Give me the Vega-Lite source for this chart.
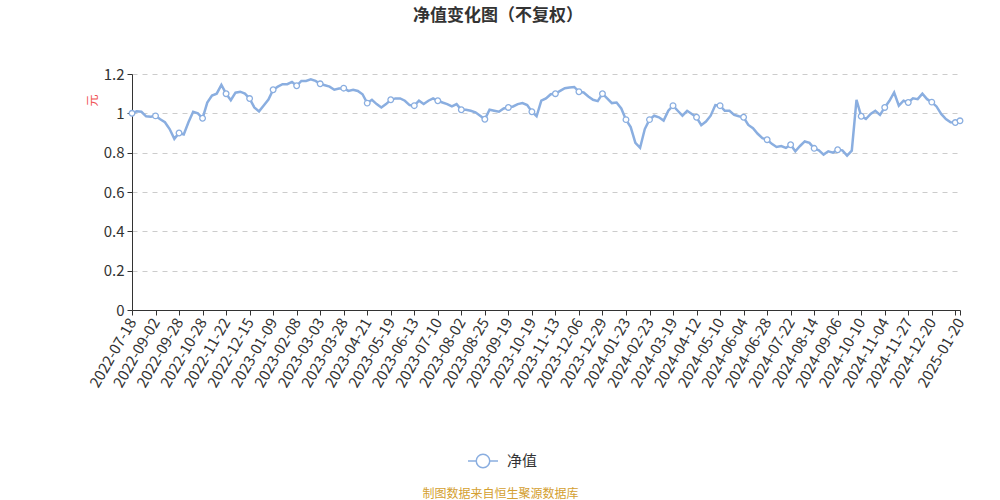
{
  "$schema": "https://vega.github.io/schema/vega-lite/v6.json",
  "width": 828,
  "height": 236,
  "autosize": "none",
  "padding": {"left": 132, "top": 74, "right": 40, "bottom": 190},
  "background": "white",
  "title": {"text": "净值变化图（不复权）", "anchor": "middle", "frame": "group", "dx": -48, "offset": 42, "fontSize": 17, "fontWeight": "bold", "color": "#333333", "font": "Noto Sans CJK SC"},
  "data": {"values": [
    {"date": "2022-07-18", "nav": 1.000}, {"date": "2022-07-27", "nav": 1.010}, {"date": "2022-08-05", "nav": 1.008}, {"date": "2022-08-16", "nav": 0.985}, {"date": "2022-08-25", "nav": 0.983},
    {"date": "2022-09-02", "nav": 0.987}, {"date": "2022-09-07", "nav": 0.970}, {"date": "2022-09-13", "nav": 0.955}, {"date": "2022-09-16", "nav": 0.920}, {"date": "2022-09-22", "nav": 0.870},
    {"date": "2022-09-28", "nav": 0.900}, {"date": "2022-10-11", "nav": 0.893}, {"date": "2022-10-14", "nav": 0.955}, {"date": "2022-10-19", "nav": 1.008}, {"date": "2022-10-24", "nav": 1.000},
    {"date": "2022-10-28", "nav": 0.975}, {"date": "2022-11-02", "nav": 1.055}, {"date": "2022-11-07", "nav": 1.090}, {"date": "2022-11-10", "nav": 1.100}, {"date": "2022-11-16", "nav": 1.145},
    {"date": "2022-11-22", "nav": 1.100}, {"date": "2022-11-25", "nav": 1.067}, {"date": "2022-11-30", "nav": 1.105}, {"date": "2022-12-05", "nav": 1.110}, {"date": "2022-12-09", "nav": 1.100},
    {"date": "2022-12-15", "nav": 1.075}, {"date": "2022-12-20", "nav": 1.030}, {"date": "2022-12-23", "nav": 1.010}, {"date": "2022-12-28", "nav": 1.040}, {"date": "2023-01-03", "nav": 1.070},
    {"date": "2023-01-09", "nav": 1.120}, {"date": "2023-01-12", "nav": 1.136}, {"date": "2023-01-17", "nav": 1.148}, {"date": "2023-01-30", "nav": 1.148}, {"date": "2023-02-02", "nav": 1.160},
    {"date": "2023-02-08", "nav": 1.140}, {"date": "2023-02-13", "nav": 1.165}, {"date": "2023-02-16", "nav": 1.165}, {"date": "2023-02-22", "nav": 1.173}, {"date": "2023-02-27", "nav": 1.165},
    {"date": "2023-03-03", "nav": 1.150}, {"date": "2023-03-08", "nav": 1.143}, {"date": "2023-03-13", "nav": 1.136}, {"date": "2023-03-17", "nav": 1.120}, {"date": "2023-03-22", "nav": 1.126},
    {"date": "2023-03-28", "nav": 1.128}, {"date": "2023-03-31", "nav": 1.114}, {"date": "2023-04-06", "nav": 1.120}, {"date": "2023-04-11", "nav": 1.114}, {"date": "2023-04-17", "nav": 1.097},
    {"date": "2023-04-21", "nav": 1.052}, {"date": "2023-04-26", "nav": 1.069}, {"date": "2023-05-04", "nav": 1.047}, {"date": "2023-05-09", "nav": 1.030}, {"date": "2023-05-15", "nav": 1.047},
    {"date": "2023-05-19", "nav": 1.069}, {"date": "2023-05-24", "nav": 1.076}, {"date": "2023-05-29", "nav": 1.076}, {"date": "2023-06-01", "nav": 1.064}, {"date": "2023-06-07", "nav": 1.042},
    {"date": "2023-06-13", "nav": 1.039}, {"date": "2023-06-16", "nav": 1.064}, {"date": "2023-06-21", "nav": 1.047}, {"date": "2023-06-29", "nav": 1.064}, {"date": "2023-07-04", "nav": 1.076},
    {"date": "2023-07-10", "nav": 1.064}, {"date": "2023-07-13", "nav": 1.055}, {"date": "2023-07-18", "nav": 1.047}, {"date": "2023-07-21", "nav": 1.035}, {"date": "2023-07-27", "nav": 1.047},
    {"date": "2023-08-02", "nav": 1.018}, {"date": "2023-08-07", "nav": 1.018}, {"date": "2023-08-10", "nav": 1.013}, {"date": "2023-08-15", "nav": 1.005}, {"date": "2023-08-21", "nav": 0.988},
    {"date": "2023-08-25", "nav": 0.970}, {"date": "2023-08-30", "nav": 1.018}, {"date": "2023-09-04", "nav": 1.013}, {"date": "2023-09-07", "nav": 1.008}, {"date": "2023-09-13", "nav": 1.025},
    {"date": "2023-09-19", "nav": 1.030}, {"date": "2023-09-22", "nav": 1.035}, {"date": "2023-09-27", "nav": 1.047}, {"date": "2023-10-11", "nav": 1.052}, {"date": "2023-10-16", "nav": 1.042},
    {"date": "2023-10-19", "nav": 1.008}, {"date": "2023-10-24", "nav": 0.985}, {"date": "2023-10-27", "nav": 1.064}, {"date": "2023-11-01", "nav": 1.076}, {"date": "2023-11-07", "nav": 1.097},
    {"date": "2023-11-13", "nav": 1.100}, {"date": "2023-11-16", "nav": 1.114}, {"date": "2023-11-21", "nav": 1.128}, {"date": "2023-11-24", "nav": 1.131}, {"date": "2023-11-30", "nav": 1.134},
    {"date": "2023-12-06", "nav": 1.110}, {"date": "2023-12-11", "nav": 1.106}, {"date": "2023-12-14", "nav": 1.086}, {"date": "2023-12-19", "nav": 1.069}, {"date": "2023-12-22", "nav": 1.062},
    {"date": "2023-12-29", "nav": 1.100}, {"date": "2024-01-04", "nav": 1.076}, {"date": "2024-01-09", "nav": 1.052}, {"date": "2024-01-12", "nav": 1.055}, {"date": "2024-01-17", "nav": 1.025},
    {"date": "2024-01-23", "nav": 0.968}, {"date": "2024-01-26", "nav": 0.930}, {"date": "2024-01-31", "nav": 0.850}, {"date": "2024-02-05", "nav": 0.825}, {"date": "2024-02-19", "nav": 0.920},
    {"date": "2024-02-23", "nav": 0.968}, {"date": "2024-02-28", "nav": 0.988}, {"date": "2024-03-04", "nav": 0.980}, {"date": "2024-03-07", "nav": 0.963}, {"date": "2024-03-13", "nav": 1.013},
    {"date": "2024-03-19", "nav": 1.039}, {"date": "2024-03-22", "nav": 1.013}, {"date": "2024-03-27", "nav": 0.988}, {"date": "2024-04-01", "nav": 1.013}, {"date": "2024-04-08", "nav": 0.997},
    {"date": "2024-04-12", "nav": 0.980}, {"date": "2024-04-17", "nav": 0.940}, {"date": "2024-04-22", "nav": 0.958}, {"date": "2024-04-25", "nav": 0.988}, {"date": "2024-05-06", "nav": 1.042},
    {"date": "2024-05-10", "nav": 1.039}, {"date": "2024-05-15", "nav": 1.013}, {"date": "2024-05-20", "nav": 1.013}, {"date": "2024-05-23", "nav": 0.992}, {"date": "2024-05-29", "nav": 0.985},
    {"date": "2024-06-04", "nav": 0.980}, {"date": "2024-06-07", "nav": 0.941}, {"date": "2024-06-13", "nav": 0.924}, {"date": "2024-06-18", "nav": 0.896}, {"date": "2024-06-24", "nav": 0.874},
    {"date": "2024-06-28", "nav": 0.866}, {"date": "2024-07-03", "nav": 0.845}, {"date": "2024-07-08", "nav": 0.829}, {"date": "2024-07-11", "nav": 0.834}, {"date": "2024-07-16", "nav": 0.824},
    {"date": "2024-07-22", "nav": 0.840}, {"date": "2024-07-25", "nav": 0.807}, {"date": "2024-07-30", "nav": 0.834}, {"date": "2024-08-02", "nav": 0.857}, {"date": "2024-08-08", "nav": 0.850},
    {"date": "2024-08-14", "nav": 0.822}, {"date": "2024-08-19", "nav": 0.812}, {"date": "2024-08-22", "nav": 0.790}, {"date": "2024-08-27", "nav": 0.807}, {"date": "2024-09-02", "nav": 0.800},
    {"date": "2024-09-06", "nav": 0.815}, {"date": "2024-09-11", "nav": 0.812}, {"date": "2024-09-19", "nav": 0.785}, {"date": "2024-09-25", "nav": 0.810}, {"date": "2024-09-30", "nav": 1.068},
    {"date": "2024-10-10", "nav": 0.985}, {"date": "2024-10-15", "nav": 0.971}, {"date": "2024-10-18", "nav": 0.997}, {"date": "2024-10-23", "nav": 1.013}, {"date": "2024-10-29", "nav": 0.992},
    {"date": "2024-11-04", "nav": 1.030}, {"date": "2024-11-07", "nav": 1.064}, {"date": "2024-11-12", "nav": 1.106}, {"date": "2024-11-15", "nav": 1.039}, {"date": "2024-11-21", "nav": 1.064},
    {"date": "2024-11-27", "nav": 1.055}, {"date": "2024-12-02", "nav": 1.076}, {"date": "2024-12-05", "nav": 1.072}, {"date": "2024-12-10", "nav": 1.100}, {"date": "2024-12-16", "nav": 1.072},
    {"date": "2024-12-20", "nav": 1.057}, {"date": "2024-12-25", "nav": 1.035}, {"date": "2024-12-30", "nav": 0.997}, {"date": "2025-01-03", "nav": 0.971}, {"date": "2025-01-09", "nav": 0.955},
    {"date": "2025-01-15", "nav": 0.953}, {"date": "2025-01-20", "nav": 0.962}
  ]},
  "encoding": {
    "x": {
      "field": "date", "type": "ordinal",
      "scale": {"type": "point", "padding": 0},
      "axis": {
        "values": ["2022-07-18", "2022-09-02", "2022-09-28", "2022-10-28", "2022-11-22", "2022-12-15", "2023-01-09", "2023-02-08", "2023-03-03", "2023-03-28", "2023-04-21", "2023-05-19", "2023-06-13", "2023-07-10", "2023-08-02", "2023-08-25", "2023-09-19", "2023-10-19", "2023-11-13", "2023-12-06", "2023-12-29", "2024-01-23", "2024-02-23", "2024-03-19", "2024-04-12", "2024-05-10", "2024-06-04", "2024-06-28", "2024-07-22", "2024-08-14", "2024-09-06", "2024-10-10", "2024-11-04", "2024-11-27", "2024-12-20", "2025-01-15", "2025-01-20"],
        "labelExpr": "datum.value == '2025-01-15' ? '' : datum.value",
        "labelAngle": -60, "labelAlign": "right", "labelBaseline": "middle",
        "labelFontSize": 15, "labelColor": "#333333", "labelPadding": 4,
        "labelOverlap": false, "labelFlush": false, "labelBound": false,
        "tickSize": 5, "tickColor": "#333333", "domainColor": "#333333", "grid": false,
        "title": "制图数据来自恒生聚源数据库", "titleColor": "#d4a030", "titleFontSize": 12, "titleFontWeight": "normal",
        "titleX": 368, "titleY": 183, "titleAlign": "center", "titleBaseline": "middle"
      }
    },
    "y": {
      "field": "nav", "type": "quantitative",
      "scale": {"domain": [0, 1.2], "nice": false, "zero": true},
      "axis": {
        "values": [0, 0.2, 0.4, 0.6, 0.8, 1, 1.2], "format": "~g",
        "labelOverlap": false,
        "labelFontSize": 15, "labelColor": "#333333", "labelPadding": 3,
        "tickSize": 5, "tickColor": "#333333", "domainColor": "#333333",
        "grid": true, "gridDash": [5, 5], "gridColor": "#cccccc",
        "title": "元", "titleColor": "#f05050", "titleFontSize": 12, "titleFontWeight": "normal",
        "titleX": -40, "titleY": 26, "titleAlign": "center", "titleBaseline": "middle"
      }
    }
  },
  "layer": [
    {
      "mark": {"type": "line", "strokeWidth": 2.5, "interpolate": "linear"},
      "encoding": {
        "color": {
          "datum": "净值", "type": "nominal",
          "scale": {"range": ["#8aaee0"]},
          "legend": {
            "orient": "none", "legendX": 335, "legendY": 371, "title": null, "padding": 0,
            "symbolType": "M-1,0L-0.45,0M0.45,0L1,0M0.45,0A0.45,0.45 0 1,1 -0.45,0A0.45,0.45 0 1,1 0.45,0",
            "symbolSize": 900, "symbolFillColor": "white", "symbolStrokeColor": "#8aaee0", "symbolStrokeWidth": 1.5,
            "labelFontSize": 15, "labelColor": "#333333", "labelOffset": 8
          }
        }
      }
    },
    {
      "transform": [{"filter": {"field": "date", "oneOf": ["2022-07-18", "2022-09-02", "2022-09-28", "2022-10-28", "2022-11-22", "2022-12-15", "2023-01-09", "2023-02-08", "2023-03-03", "2023-03-28", "2023-04-21", "2023-05-19", "2023-06-13", "2023-07-10", "2023-08-02", "2023-08-25", "2023-09-19", "2023-10-19", "2023-11-13", "2023-12-06", "2023-12-29", "2024-01-23", "2024-02-23", "2024-03-19", "2024-04-12", "2024-05-10", "2024-06-04", "2024-06-28", "2024-07-22", "2024-08-14", "2024-09-06", "2024-10-10", "2024-11-04", "2024-11-27", "2024-12-20", "2025-01-15", "2025-01-20"]}}],
      "mark": {"type": "point", "shape": "circle", "filled": true, "fill": "white", "stroke": "#8aaee0", "strokeWidth": 1.3, "size": 32, "opacity": 1}
    }
  ],
  "config": {"view": {"stroke": null}, "font": "Noto Sans CJK SC"}
}
